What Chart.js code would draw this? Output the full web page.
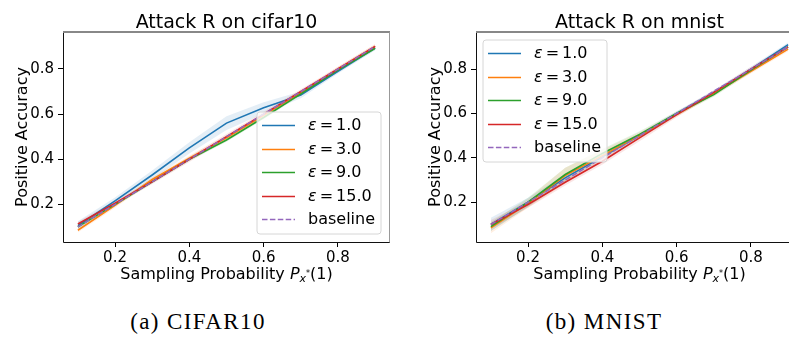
<!DOCTYPE html>
<html>
<head>
<meta charset="utf-8">
<script src="https://cdn.jsdelivr.net/npm/chart.js@4.4.1/dist/chart.umd.min.js"></script>
<style>
  body { margin: 0; width: 789px; height: 347px; overflow: hidden; background: #fff; position: relative; }
  canvas { position: absolute; top: 0; }
  .cap { position: absolute; top: 309px; width: 300px; text-align: center; font-family: "Liberation Serif"; font-size: 23px; letter-spacing: 1.4px; color: #000; }
</style>
</head>
<body>
<canvas id="cifar" width="400" height="300" style="left:0"></canvas>
<canvas id="mnist" width="400" height="300" style="left:413px"></canvas>
<div class="cap" style="left:48px">(a) CIFAR10</div>
<div class="cap" style="left:454px">(b) MNIST</div>

<script>
// sampling probability P_x*(1)
var xs = [0.1, 0.2, 0.3, 0.4, 0.5, 0.6, 0.7, 0.8, 0.9];
var epsilons = [1.0, 3.0, 9.0, 15.0];
var xTicks = [0.2, 0.4, 0.6, 0.8];
var yTicks = [0.2, 0.4, 0.6, 0.8];

// cifar10 positive accuracy (mean) per epsilon
var cifarEps1  = [0.105, 0.215, 0.33, 0.45, 0.56, 0.628, 0.685, 0.79, 0.893];
var cifarEps3  = [0.085, 0.195, 0.31, 0.405, 0.495, 0.595, 0.695, 0.80, 0.90];
var cifarEps9  = [0.10, 0.20, 0.30, 0.40, 0.485, 0.585, 0.69, 0.795, 0.892];
var cifarEps15 = [0.113, 0.205, 0.30, 0.40, 0.50, 0.60, 0.70, 0.80, 0.90];
var cifarBase  = [0.1, 0.2, 0.3, 0.4, 0.5, 0.6, 0.7, 0.8, 0.9];
// spread (std)
var cifarStd1  = [0.02, 0.015, 0.02, 0.025, 0.03, 0.025, 0.015, 0.01, 0.01];
var cifarStd3  = [0.01, 0.01, 0.01, 0.01, 0.01, 0.01, 0.01, 0.01, 0.01];
var cifarStd9  = [0.008, 0.008, 0.008, 0.008, 0.008, 0.008, 0.008, 0.008, 0.008];
var cifarStd15 = [0.01, 0.01, 0.01, 0.012, 0.012, 0.01, 0.01, 0.01, 0.01];

// mnist positive accuracy (mean) per epsilon
var mnistEps1  = [0.10, 0.20, 0.31, 0.405, 0.50, 0.60, 0.695, 0.80, 0.91];
var mnistEps3  = [0.085, 0.195, 0.32, 0.41, 0.50, 0.595, 0.69, 0.79, 0.89];
var mnistEps9  = [0.09, 0.20, 0.325, 0.42, 0.505, 0.60, 0.685, 0.795, 0.90];
var mnistEps15 = [0.10, 0.19, 0.29, 0.385, 0.49, 0.595, 0.695, 0.80, 0.90];
var mnistBase  = [0.1, 0.2, 0.3, 0.4, 0.5, 0.6, 0.7, 0.8, 0.9];
var mnistStd1  = [0.03, 0.02, 0.015, 0.015, 0.01, 0.01, 0.01, 0.01, 0.01];
var mnistStd3  = [0.025, 0.02, 0.035, 0.025, 0.015, 0.01, 0.01, 0.01, 0.01];
var mnistStd9  = [0.02, 0.02, 0.03, 0.02, 0.015, 0.01, 0.01, 0.01, 0.01];
var mnistStd15 = [0.02, 0.015, 0.015, 0.015, 0.015, 0.012, 0.01, 0.01, 0.01];

var colors = ['#1f77b4', '#ff7f0e', '#2ca02c', '#d62728'];
var baseColor = '#9467bd';

function pts(vals) {
    return xs.map(function(x, i) { return { x: x, y: vals[i] }; });
}

function rgba(hex, a) {
    var n = parseInt(hex.slice(1), 16);
    return 'rgba(' + (n >> 16) + ',' + ((n >> 8) & 255) + ',' + (n & 255) + ',' + a + ')';
}

function buildDatasets(series, stds, base) {
    var ds = [];
    series.forEach(function(vals, i) {
        ds.push({ label: 'eps ' + epsilons[i], data: pts(vals), borderColor: colors[i], borderWidth: 1.6,
                  pointRadius: 0, fill: false, order: 4 - i, tension: 0 });
    });
    ds.push({ label: 'baseline', data: pts(base), borderColor: baseColor, borderWidth: 1.5,
              borderDash: [5.5, 2.4], pointRadius: 0, fill: false, order: 0 });
    series.forEach(function(vals, i) {
        ds.push({ label: 'hi', data: pts(vals.map(function(v, k) { return v + stds[i][k]; })),
                  borderWidth: 0, pointRadius: 0, fill: false, order: 10 });
        ds.push({ label: 'lo', data: pts(vals.map(function(v, k) { return v - stds[i][k]; })),
                  borderWidth: 0, pointRadius: 0, fill: '-1', backgroundColor: rgba(colors[i], 0.12), order: 10 });
    });
    return ds;
}

var F = '"DejaVu Sans"';

function drawLegend(ctx, bx, by) {
    var w = 124, h = 122, r = 3;
    ctx.save();
    ctx.beginPath();
    ctx.moveTo(bx + r, by);
    ctx.arcTo(bx + w, by, bx + w, by + h, r);
    ctx.arcTo(bx + w, by + h, bx, by + h, r);
    ctx.arcTo(bx, by + h, bx, by, r);
    ctx.arcTo(bx, by, bx + w, by, r);
    ctx.closePath();
    ctx.fillStyle = 'rgba(255,255,255,0.8)';
    ctx.fill();
    ctx.strokeStyle = '#d6d6d6';
    ctx.lineWidth = 1;
    ctx.stroke();

    ctx.textBaseline = 'middle';
    ctx.fillStyle = '#000';
    for (var i = 0; i < 5; i++) {
        var y = Math.round(by + 13 + i * 23.5) + 0.5;
        ctx.beginPath();
        ctx.moveTo(bx + 5, y);
        ctx.lineTo(bx + 38, y);
        ctx.lineWidth = 1.6;
        if (i < 4) { ctx.strokeStyle = colors[i]; ctx.setLineDash([]); }
        else { ctx.strokeStyle = baseColor; ctx.setLineDash([5.5, 2.4]); }
        ctx.stroke();
        ctx.setLineDash([]);
        var tx = bx + 51;
        if (i < 4) {
            ctx.font = 'italic 16px ' + F;
            ctx.textAlign = 'left';
            ctx.fillText('ε', tx, y);
            tx += ctx.measureText('ε').width + 3;
            ctx.font = '16px ' + F;
            ctx.fillText('=', tx, y);
            tx += ctx.measureText('=').width + 3;
            ctx.fillText(epsilons[i].toFixed(1), tx, y);
        } else {
            ctx.font = '16px ' + F;
            ctx.textAlign = 'left';
            ctx.fillText('baseline', tx, y);
        }
    }
    ctx.restore();
}

var decor = {
    id: 'decor',
    afterDraw: function(chart, args, opts) {
        var ctx = chart.ctx, a = chart.chartArea;
        ctx.save();
        // frame
        ctx.lineWidth = 1;
        ctx.strokeStyle = '#111';
        ctx.beginPath();
        ctx.moveTo(a.left + 0.5, a.top);
        ctx.lineTo(a.left + 0.5, a.bottom + 0.5);
        ctx.lineTo(a.right, a.bottom + 0.5);
        ctx.stroke();
        ctx.strokeStyle = '#888';
        ctx.lineWidth = 2;
        ctx.beginPath();
        ctx.moveTo(a.left, a.top);
        ctx.lineTo(a.right, a.top);
        ctx.stroke();
        ctx.lineWidth = 1;
        ctx.strokeStyle = '#999';
        ctx.beginPath();
        ctx.moveTo(a.right - 0.5, a.top);
        ctx.lineTo(a.right - 0.5, a.bottom + 0.5);
        ctx.stroke();

        var cx = (a.left + a.right) / 2;
        ctx.fillStyle = '#000';
        // title
        ctx.font = '19px ' + F;
        ctx.textAlign = 'center';
        ctx.textBaseline = 'alphabetic';
        ctx.fillText(opts.title, cx, a.top - 4);

        // y label
        ctx.save();
        ctx.translate(27, (a.top + a.bottom) / 2);
        ctx.rotate(-Math.PI / 2);
        ctx.font = '16px ' + F;
        ctx.fillText('Positive Accuracy', 0, 0);
        ctx.restore();

        // x label with math part P_{x*}(1)
        var parts = [
            { t: 'Sampling Probability ', f: '16px ' + F, dy: 0 },
            { t: 'P', f: 'italic 16px ' + F, dy: 0 },
            { t: 'x', f: 'italic 11px ' + F, dy: 3 },
            { t: '*', f: '8px ' + F, dy: -3 },
            { t: '(1)', f: '16px ' + F, dy: 0 }
        ];
        var total = 0;
        parts.forEach(function(p) { ctx.font = p.f; p.w = ctx.measureText(p.t).width; total += p.w; });
        var x = cx - total / 2, by = 279;
        ctx.textAlign = 'left';
        parts.forEach(function(p) { ctx.font = p.f; ctx.fillText(p.t, x, by + p.dy); x += p.w; });

        // legend
        if (opts.legend === 'lower right') drawLegend(ctx, a.right - 9 - 124, a.bottom - 8 - 122);
        else drawLegend(ctx, a.left + 7, a.top + 8);
        ctx.restore();
    }
};

function makeChart(id, series, stds, base, title, legendPos, yMin, yMax) {
    return new Chart(document.getElementById(id), {
        type: 'line',
        data: { datasets: buildDatasets(series, stds, base) },
        plugins: [decor],
        options: {
            responsive: false,
            animation: false,
            layout: { padding: { top: 32, right: 10, left: 0, bottom: 0 } },
            plugins: {
                legend: { display: false },
                tooltip: { enabled: false },
                decor: { title: title, legend: legendPos }
            },
            scales: {
                x: {
                    type: 'linear', min: 0.06, max: 0.94,
                    afterBuildTicks: function(s) { s.ticks = xTicks.map(function(v) { return { value: v }; }); },
                    afterFit: function(s) { s.height = 58; },
                    grid: { drawOnChartArea: false, drawTicks: true, tickLength: 5, tickColor: '#000' },
                    border: { display: false },
                    ticks: { color: '#000', padding: 2, font: { family: 'DejaVu Sans', size: 15 },
                             callback: function(v) { return v.toFixed(1); } }
                },
                y: {
                    type: 'linear', min: yMin, max: yMax,
                    afterBuildTicks: function(s) { s.ticks = yTicks.map(function(v) { return { value: v }; }); },
                    afterFit: function(s) { s.width = 63; },
                    grid: { drawOnChartArea: false, drawTicks: true, tickLength: 5, tickColor: '#000' },
                    border: { display: false },
                    ticks: { color: '#000', padding: 4, font: { family: 'DejaVu Sans', size: 15 },
                             callback: function(v) { return v.toFixed(1); } }
                }
            }
        }
    });
}

makeChart('cifar', [cifarEps1, cifarEps3, cifarEps9, cifarEps15],
          [cifarStd1, cifarStd3, cifarStd9, cifarStd15], cifarBase,
          'Attack R on cifar10', 'lower right', 0.033, 0.964);
makeChart('mnist', [mnistEps1, mnistEps3, mnistEps9, mnistEps15],
          [mnistStd1, mnistStd3, mnistStd9, mnistStd15], mnistBase,
          'Attack R on mnist', 'upper left', 0.021, 0.967);
</script>
</body>
</html>
